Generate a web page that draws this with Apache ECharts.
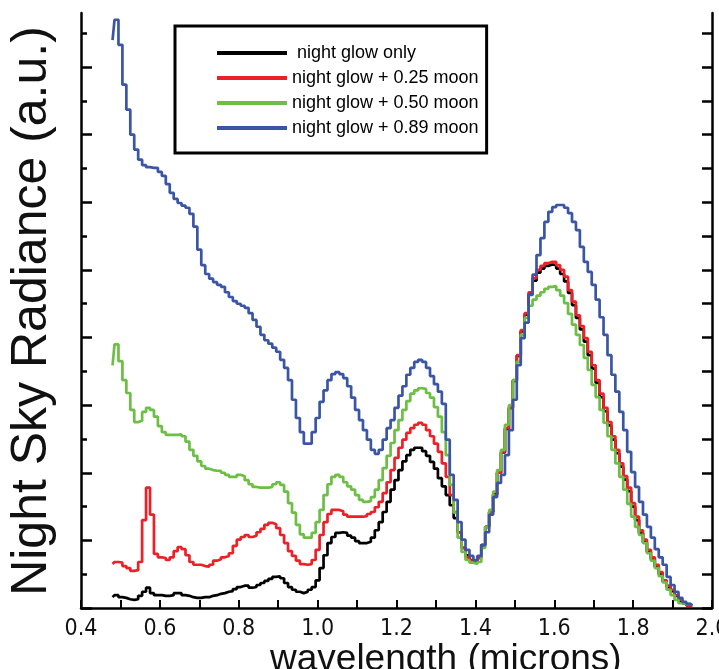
<!DOCTYPE html>
<html>
<head>
<meta charset="utf-8">
<script src="https://cdn.jsdelivr.net/npm/echarts@6/dist/echarts.min.js"></script>
<style>
  html, body { margin: 0; padding: 0; background: #fff; }
  #chart { width: 719px; height: 669px; }
</style>
</head>
<body>
<div id="chart"></div>
<script>
// wavelength grid: 0.48 .. 1.95 microns, one reading every 0.01
var waveStart = 0.48;
var waveStep = 0.01;

var seriesNames = ['night glow only', 'night glow + 0.25 moon', 'night glow + 0.50 moon', 'night glow + 0.89 moon'];
var seriesColors = ['#000000', '#ee1f26', '#6cbe45', '#3a55a6'];

var glowOnly = [
  1.6, 1.9, 1.6, 1.5, 1.3, 1.2, 1.3, 1.8, 2.4, 3.0,
  2.2, 1.9, 1.9, 1.8, 1.8, 1.9, 2.2, 2.2, 1.9, 1.8,
  1.6, 1.5, 1.5, 1.6, 1.6, 1.8, 1.9, 2.1, 2.2, 2.4,
  2.5, 2.8, 3.1, 3.3, 3.3, 3.0, 3.1, 3.4, 3.7, 4.0,
  4.3, 4.6, 4.7, 4.4, 3.7, 3.1, 2.7, 2.4, 2.2, 2.4,
  2.7, 3.1, 4.1, 5.9, 7.8, 9.6, 10.5, 11.1, 11.2, 11.1,
  10.7, 10.4, 9.9, 9.6, 9.6, 9.8, 10.4, 11.5, 12.7, 14.2,
  15.7, 17.5, 18.9, 20.4, 21.7, 22.6, 23.4, 23.7, 23.7, 23.2,
  22.5, 21.6, 20.6, 19.2, 18.0, 16.7, 15.2, 13.3, 11.2, 8.9,
  7.8, 7.1, 6.8, 7.4, 9.3, 12.0, 14.2, 16.8, 20.0, 23.0,
  26.5, 29.6, 33.6, 37.3, 40.9, 43.4, 46.4, 48.4, 49.6, 50.2,
  50.6, 50.8, 50.7, 50.2, 49.4, 48.3, 46.6, 44.8, 42.9, 41.2,
  39.4, 37.4, 35.4, 33.3, 31.2, 29.1, 27.0, 24.9, 22.9, 20.9,
  19.0, 17.3, 15.0, 13.0, 11.1, 9.7, 8.3, 7.2, 6.1, 5.0,
  3.9, 3.1, 2.5, 1.8, 1.1, 0.7, 0.4, 0.4
];

var moon025 = [
  6.5, 6.8, 6.7, 6.2, 5.9, 5.5, 5.6, 6.8, 13.0, 17.8,
  13.8, 8.0, 7.5, 7.4, 7.1, 7.5, 8.4, 9.0, 8.7, 7.8,
  6.8, 6.4, 6.4, 6.2, 6.1, 6.4, 7.0, 7.2, 7.5, 7.7,
  8.1, 9.2, 10.1, 10.5, 10.8, 10.5, 10.7, 11.2, 11.7, 12.3,
  12.6, 12.4, 11.8, 10.8, 9.6, 8.4, 7.7, 7.0, 6.5, 6.4,
  6.5, 7.1, 8.6, 10.8, 12.7, 13.9, 14.5, 14.5, 14.3, 13.8,
  13.5, 13.5, 13.5, 13.5, 13.6, 13.9, 14.2, 14.9, 15.7, 17.0,
  18.6, 20.4, 22.2, 23.7, 24.9, 25.9, 26.6, 27.1, 27.4, 27.1,
  26.3, 25.4, 24.3, 23.1, 21.4, 19.4, 16.7, 14.2, 11.2, 8.9,
  7.5, 7.0, 6.8, 7.4, 9.3, 12.0, 14.2, 16.7, 20.0, 23.1,
  26.6, 29.6, 33.7, 37.4, 41.1, 43.6, 46.7, 48.8, 50.0, 50.6,
  51.0, 51.2, 51.2, 50.7, 50.0, 49.0, 47.0, 45.3, 43.3, 41.7,
  39.9, 37.9, 35.9, 33.7, 31.7, 29.6, 27.5, 25.4, 23.4, 21.4,
  19.5, 17.8, 15.5, 13.5, 11.5, 10.1, 8.6, 7.5, 6.4, 5.3,
  4.1, 3.3, 2.7, 1.9, 1.2, 0.7, 0.4, 0.4
];

var moon050 = [
  35.9, 39.0, 36.5, 33.7, 31.8, 29.3, 27.5, 27.7, 29.0, 29.6,
  29.3, 28.3, 26.9, 26.0, 25.6, 25.6, 25.6, 25.7, 25.4, 24.6,
  23.4, 22.5, 21.7, 21.0, 20.6, 20.4, 20.3, 20.3, 20.0, 19.7,
  19.4, 19.4, 19.7, 19.5, 18.9, 18.3, 17.9, 17.8, 17.8, 17.8,
  17.9, 18.3, 18.6, 18.2, 17.2, 15.5, 14.1, 12.3, 10.9, 10.4,
  10.4, 11.1, 12.7, 14.5, 16.7, 18.3, 19.4, 19.7, 19.4, 18.6,
  18.0, 17.5, 16.7, 16.0, 15.7, 15.8, 16.4, 17.5, 18.9, 20.7,
  22.5, 24.4, 26.3, 27.8, 29.3, 30.6, 31.7, 32.2, 32.5, 32.4,
  31.8, 31.1, 29.7, 28.3, 26.0, 22.6, 18.2, 14.1, 10.4, 8.3,
  7.1, 6.7, 6.5, 6.8, 8.9, 12.0, 14.5, 17.2, 20.4, 23.4,
  27.1, 30.0, 33.7, 36.4, 40.4, 42.9, 44.7, 45.6, 46.2, 46.7,
  47.2, 47.5, 47.6, 47.0, 46.2, 45.1, 43.5, 41.9, 40.4, 38.9,
  37.0, 35.2, 33.0, 31.2, 29.3, 27.4, 25.4, 23.4, 21.4, 19.4,
  17.5, 15.4, 13.5, 12.0, 10.8, 9.6, 8.1, 7.0, 5.9, 4.7,
  3.8, 2.7, 1.9, 1.2, 0.7, 0.6, 0.6, 0.4
];

var moon089 = [
  84.0, 87.0, 83.3, 77.4, 73.7, 70.0, 67.8, 66.3, 65.5, 65.2,
  65.1, 65.1, 64.5, 63.9, 62.7, 61.4, 60.5, 59.9, 59.5, 59.2,
  58.3, 56.4, 53.0, 50.7, 49.4, 48.7, 48.2, 47.8, 47.5, 46.7,
  46.0, 45.4, 45.0, 44.7, 44.4, 43.6, 42.6, 41.6, 40.4, 39.6,
  39.1, 38.5, 37.9, 36.7, 35.5, 33.7, 30.8, 28.1, 26.0, 24.3,
  24.3, 26.0, 28.1, 30.5, 32.2, 33.7, 34.6, 34.9, 34.6, 34.0,
  32.8, 31.1, 29.3, 27.8, 26.3, 24.9, 23.4, 22.8, 23.4, 24.9,
  26.6, 27.8, 29.6, 31.4, 32.8, 34.5, 35.5, 36.4, 36.7, 36.4,
  35.5, 34.3, 33.1, 32.0, 30.2, 24.9, 19.7, 16.0, 12.7, 10.1,
  8.6, 7.7, 7.1, 7.7, 9.3, 11.2, 13.8, 16.4, 18.5, 19.7,
  22.6, 26.3, 30.8, 35.9, 39.9, 42.2, 46.3, 49.3, 52.2, 54.7,
  57.1, 58.6, 59.3, 59.6, 59.6, 59.2, 58.4, 57.1, 55.9, 53.4,
  51.2, 49.7, 47.8, 45.6, 43.0, 40.4, 37.4, 34.5, 32.0, 29.0,
  26.3, 23.1, 20.1, 17.9, 15.7, 13.8, 12.0, 10.4, 8.7, 7.5,
  6.4, 4.6, 3.4, 2.4, 1.5, 0.9, 0.6, 0.4
];

var majorTicks = [0, 10, 20, 30, 40, 50, 60, 70, 80];
var minorTicks = [5, 15, 25, 35, 45, 55, 65, 75, 85];
var rightTicks = [0, 5, 10, 15, 20, 25, 30, 35, 40, 45, 50, 55, 60, 65, 70, 75, 80, 85];

function pairs(values) {
  return values.map(function(v, i) {
    return [+(waveStart + i * waveStep).toFixed(2), v];
  });
}

var chart = echarts.init(document.getElementById('chart'));

var yBase = {
  type: 'value',
  min: 0,
  max: 88,
  interval: 5,
  axisLabel: { show: false },
  splitLine: { show: false }
};

chart.setOption({
  animation: false,
  backgroundColor: '#fff',
  grid: { left: 81, right: 7, top: 13, bottom: 61, outerBoundsMode: 'none', containLabel: false },
  legend: {
    orient: 'vertical',
    left: 175,
    top: 26,
    padding: [17, 8, 15, 42],
    borderColor: '#000',
    borderWidth: 3,
    itemWidth: 70,
    itemHeight: 4,
    itemGap: 5,
    icon: 'rect',
    data: seriesNames,
    formatter: function(name) { return name === seriesNames[0] ? ' ' + name : name; },
    textStyle: { fontFamily: 'Liberation Sans', fontSize: 18, lineHeight: 20, color: '#000' }
  },
  xAxis: {
    type: 'value',
    min: 0.4,
    max: 2.0,
    interval: 0.2,
    axisLine: { lineStyle: { color: '#000', width: 2.5 } },
    axisTick: { inside: true, length: 8, lineStyle: { color: '#000', width: 2 } },
    minorTick: { show: true, splitNumber: 2, length: 8, lineStyle: { color: '#000', width: 2 } },
    splitLine: { show: false },
    minorSplitLine: { show: false },
    axisLabel: {
      margin: 10,
      color: '#111',
      fontFamily: '"Liberation Sans Narrow", "DejaVu Sans Condensed", "Roboto Condensed", "Liberation Sans"',
      fontSize: 23,
      formatter: function(v) { return v.toFixed(1); }
    }
  },
  yAxis: [
    Object.assign({}, yBase, {
      position: 'left',
      axisLine: { show: true, lineStyle: { color: '#000', width: 2.5 } },
      axisTick: { show: true, inside: true, length: 11, customValues: majorTicks, lineStyle: { color: '#000', width: 2.5 } }
    }),
    Object.assign({}, yBase, {
      position: 'left',
      axisLine: { show: false },
      axisTick: { show: true, inside: true, length: 6, customValues: minorTicks, lineStyle: { color: '#000', width: 2.5 } }
    }),
    Object.assign({}, yBase, {
      position: 'right',
      axisLine: { show: true, lineStyle: { color: '#000', width: 2.5 } },
      axisTick: { show: true, inside: true, length: 10, customValues: rightTicks, lineStyle: { color: '#000', width: 2.5 } }
    })
  ],
  graphic: [
    {
      type: 'text',
      style: {
        text: 'wavelength (microns)',
        x: 270,
        y: 678,
        textAlign: 'left',
        textVerticalAlign: 'bottom',
        font: '37px "Liberation Sans"',
        fill: '#111'
      }
    },
    {
      type: 'text',
      x: 32,
      y: 311,
      rotation: Math.PI / 2,
      style: {
        text: 'Night Sky Radiance (a.u.)',
        x: 0,
        y: 0,
        textAlign: 'center',
        textVerticalAlign: 'middle',
        font: '50px "Liberation Sans"',
        fill: '#111'
      }
    }
  ],
  series: [glowOnly, moon025, moon050, moon089].map(function(values, k) {
    return {
      name: seriesNames[k],
      type: 'line',
      step: 'middle',
      yAxisIndex: 0,
      showSymbol: false,
      data: pairs(values),
      itemStyle: { color: seriesColors[k] },
      lineStyle: { color: seriesColors[k], width: 2.7 },
      z: 2 + k
    };
  })
});
window.addEventListener('resize', function() { chart.resize(); });
</script>
</body>
</html>
